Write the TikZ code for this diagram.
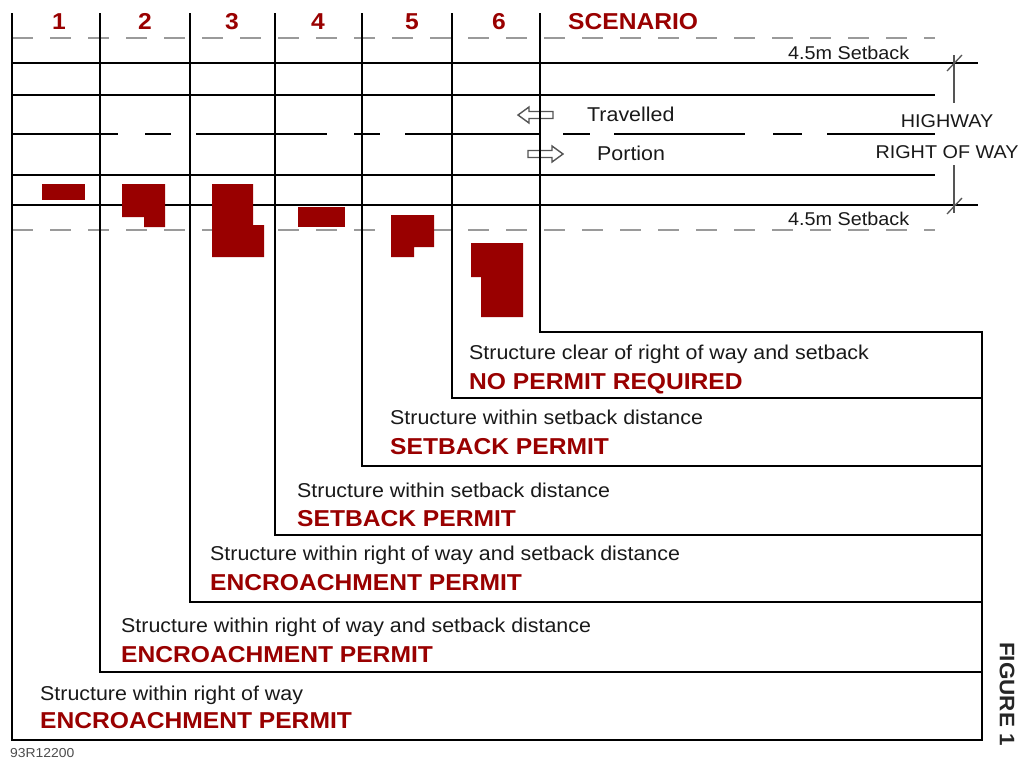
\documentclass[tikz,border=0pt]{standalone}
\usepackage{fontspec}
\setmainfont{Liberation Sans}[FakeStretch=1.07]
\definecolor{permitred}{HTML}{990000}
\definecolor{dashgray}{HTML}{9A9A9A}
\definecolor{dimgray}{HTML}{555555}

\begin{document}
\begin{tikzpicture}[x=1pt,y=-1pt,
    road/.style={line width=2pt},
    thinroad/.style={line width=1.4pt},
    setbackline/.style={dashgray,line width=2.2pt,dash pattern=on 21pt off 17pt},
    bound/.style={line width=2.1pt},
    building/.style={fill=permitred,draw=none},
    flowarrow/.style={draw=dimgray,fill=white,line width=1.4pt},
    dimline/.style={dimgray,line width=1.3pt},
    desc/.style={anchor=base west,inner sep=0pt,text=black!90,font=\fontsize{20}{22}\selectfont},
    permit/.style={anchor=base west,inner sep=0pt,text=permitred,font=\fontsize{23}{26}\selectfont\bfseries},
    scen/.style={anchor=base,inner sep=0pt,text=permitred,font=\fontsize{23}{26}\selectfont\bfseries},
    roadtext/.style={anchor=base west,inner sep=0pt,text=black!90,font=\fontsize{18.5}{20}\selectfont}]
  \useasboundingbox (0,0) rectangle (1020,758);

  % setback limits and highway edges
  \draw[setbackline] (12,38) -- (935,38);
  \draw[setbackline] (12,230) -- (935,230);
  \draw[thinroad] (12,63) -- (978,63);
  \draw[thinroad] (12,205) -- (978,205);
  \draw[road] (12,95) -- (935,95);
  \draw[road] (12,175) -- (935,175);
  % centre line
  \foreach \a/\b in {12/118,145/171,196/327,354/380,405/539,563/590,614/745,773/802,827/935}
    \draw[line width=2.6pt] (\a,134) -- (\b,134);

  % direction arrows
  \draw[flowarrow] (518,115) -- (529,107) -- (529,111.5) -- (553,111.5) -- (553,118.5)
    -- (529,118.5) -- (529,123) -- cycle;
  \draw[flowarrow] (563,154) -- (552,146) -- (552,150.5) -- (528,150.5) -- (528,157.5)
    -- (552,157.5) -- (552,162) -- cycle;

  % structures
  \fill[building] (42,184) rectangle (85,200);
  \fill[building] (122,184) -- (165,184) -- (165,227) -- (144,227) -- (144,217) -- (122,217) -- cycle;
  \fill[building] (212,184) -- (253,184) -- (253,225) -- (264,225) -- (264,257) -- (212,257) -- cycle;
  \fill[building] (298,207) rectangle (345,227);
  \fill[building] (391,215) -- (434,215) -- (434,247) -- (414,247) -- (414,257) -- (391,257) -- cycle;
  \fill[building] (471,243) -- (523,243) -- (523,317) -- (481,317) -- (481,277) -- (471,277) -- cycle;

  % scenario lines and boxes
  \foreach \x/\y in {540/332,452/398,362/466,275/535,190/602,100/672,12/740}
    \draw[bound] (\x,13) |- (982,\y);
  \draw[bound] (982,330.95) -- (982,741.05);

  % headings
  \foreach \x [count=\k] in {59,145,232,318,412,499}
    \node[scen] (num\k) at (\x,29) {\k};
  \node[permit] (scenario) at (568,29) {SCENARIO};

  % road labels
  \node[roadtext] (setbacktop) at (788,59) {4.5m Setback};
  \node[roadtext] (setbackbot) at (788,225) {4.5m Setback};
  \node[desc] (travelled) at (587,121) {Travelled};
  \node[desc] (portion) at (597,160) {Portion};
  \node[roadtext,anchor=base] (highway) at (947,127) {HIGHWAY};
  \node[roadtext,anchor=base] (rightofway) at (947,158) {RIGHT OF WAY};
  \draw[dimline] (954,55) -- (954,103);
  \draw[dimline] (954,165) -- (954,213);
  \draw[dimline] (947,71) -- (962,55);
  \draw[dimline] (947,214) -- (962,198);

  % box texts
  \node[desc] (desc6) at (469,359) {Structure clear of right of way and setback};
  \node[permit] (permit6) at (469,389) {NO PERMIT REQUIRED};
  \node[desc] (desc5) at (390,424) {Structure within setback distance};
  \node[permit] (permit5) at (390,454) {SETBACK PERMIT};
  \node[desc] (desc4) at (297,497) {Structure within setback distance};
  \node[permit] (permit4) at (297,526) {SETBACK PERMIT};
  \node[desc] (desc3) at (210,560) {Structure within right of way and setback distance};
  \node[permit] (permit3) at (210,590) {ENCROACHMENT PERMIT};
  \node[desc] (desc2) at (121,632) {Structure within right of way and setback distance};
  \node[permit] (permit2) at (121,662) {ENCROACHMENT PERMIT};
  \node[desc] (desc1) at (40,700) {Structure within right of way};
  \node[permit] (permit1) at (40,728) {ENCROACHMENT PERMIT};

  \node[rotate=-90,inner sep=0pt,text=black!85,font=\fontsize{21}{24}\selectfont\bfseries] (figure) at (1007,694) {FIGURE 1};
  \node[anchor=base west,inner sep=0pt,text=black!70,font=\fontsize{13}{15}\selectfont] (drawingno) at (10,757) {93R12200};
\end{tikzpicture}
\end{document}
